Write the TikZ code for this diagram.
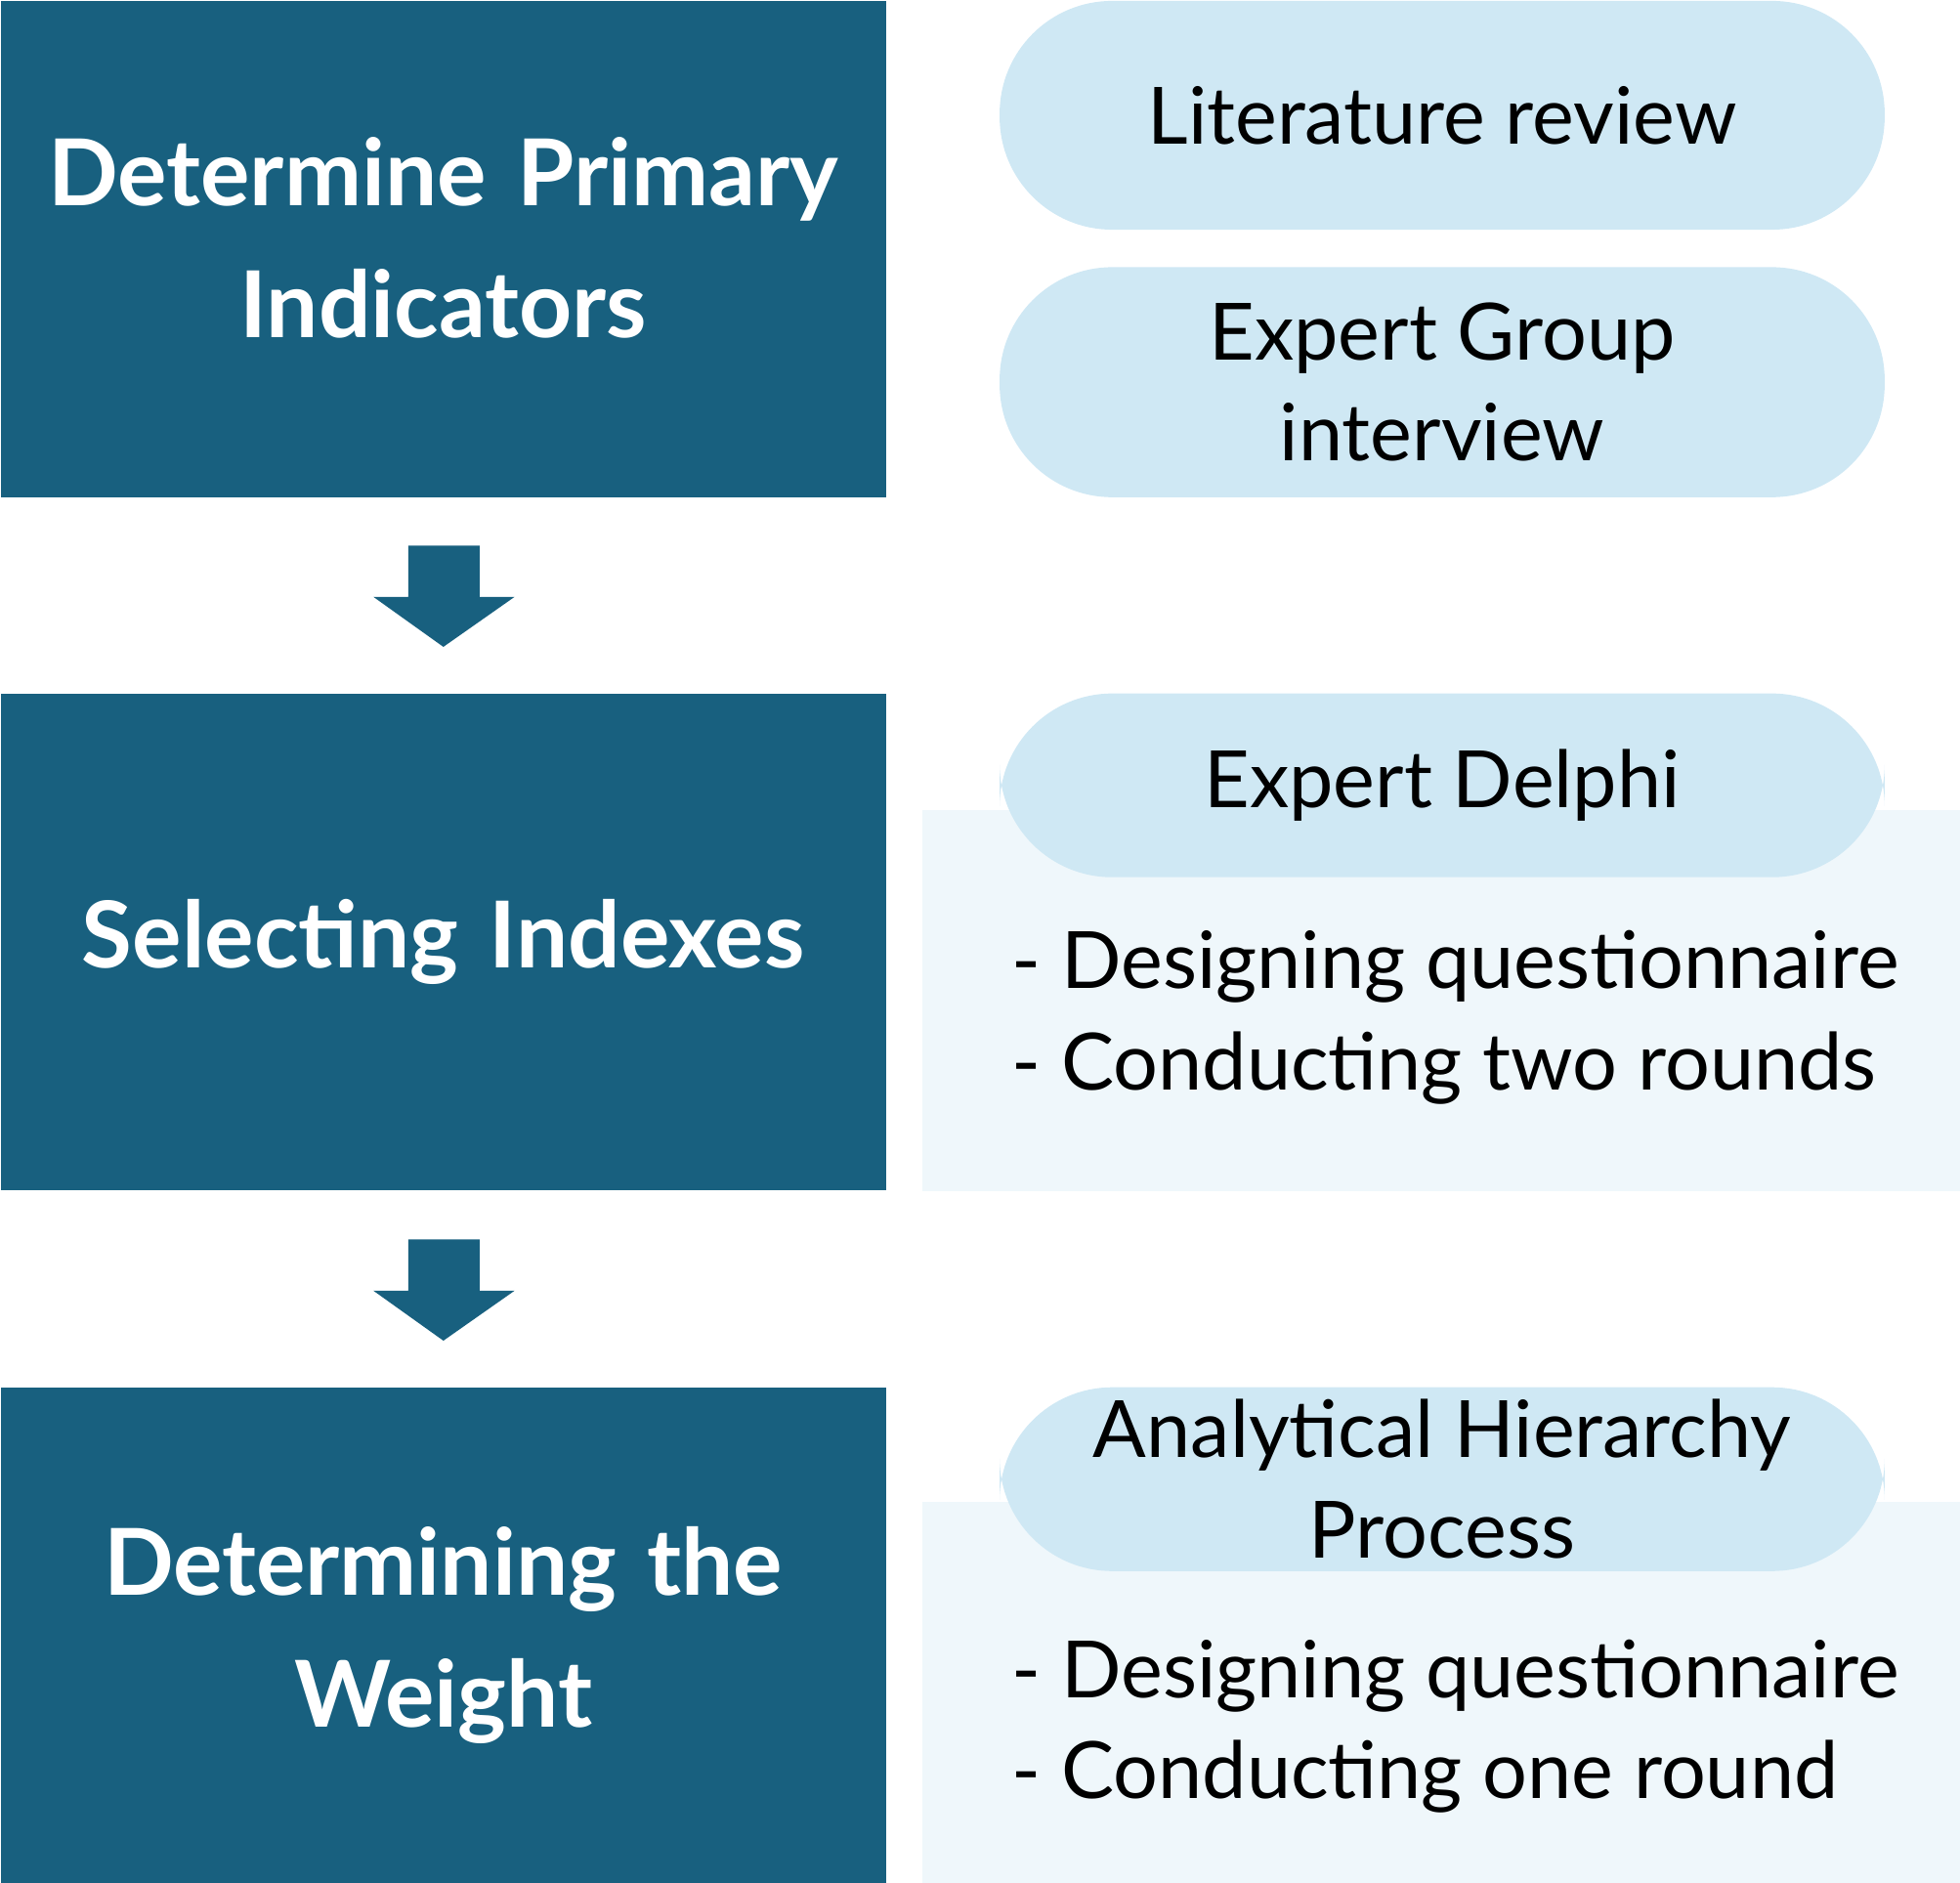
\documentclass[tikz,border=0pt]{standalone}
\usepackage{fontspec}
\setmainfont{Lato}
\usetikzlibrary{positioning,calc}
\definecolor{stepblue}{HTML}{18607F}
\definecolor{pillblue}{HTML}{CFE8F4}
\definecolor{paleblue}{HTML}{EFF7FB}
\tikzset{
  stage/.style={fill=stepblue,text=white,font=\bfseries\fontsize{21}{30}\selectfont,
    minimum width=7.08cm,minimum height=3.97cm,text width=6.6cm,align=center,inner sep=0pt},
  pill/.style={fill=pillblue,rounded corners=0.9cm,minimum width=7.08cm,
    font=\fontsize{18}{23}\selectfont,align=center,inner sep=0pt},
  panel/.style={fill=paleblue,minimum width=8.31cm,minimum height=3.05cm,inner sep=0pt},
  bullets/.style={font=\fontsize{18}{23}\selectfont,align=left,anchor=west}
}
\begin{document}
\begin{tikzpicture}
\useasboundingbox (0,0) rectangle (15.68,-15.06);
% left column
\node[stage,anchor=north west] (prim) at (0,0) {\raisebox{0.8cm}{\parbox{6.6cm}{\centering Determine Primary\\Indicators}}};
\node[stage,anchor=north west] (sel) at (0,-5.54) {Selecting Indexes};
\node[stage,anchor=north west] (wgt) at (0,-11.09) {Determining the\\Weight};
% block arrows
\fill[stepblue] ($(prim.south)+(-0.28,-0.38)$) -- ++(0.57,0) -- ++(0,-0.41) -- ++(0.28,0)
  -- ($(prim.south)+(0,-1.19)$) -- ++(-0.56,0.4) -- ++(0.28,0) -- cycle;
\fill[stepblue] ($(sel.south)+(-0.28,-0.39)$) -- ++(0.57,0) -- ++(0,-0.41) -- ++(0.28,0)
  -- ($(sel.south)+(0,-1.2)$) -- ++(-0.56,0.4) -- ++(0.28,0) -- cycle;
% right column
\node[pill,minimum height=1.83cm,anchor=north west] (lit) at (7.99,0) {Literature review};
\node[pill,minimum height=1.84cm,anchor=north west] (grp) at (7.99,-2.13) {Expert Group\\interview};
\node[panel,anchor=north west] (delpan) at (7.37,-6.47) {};
\node[pill,minimum height=1.47cm,anchor=north west] (del) at (7.99,-5.54) {Expert Delphi};
\node[bullets] (delb) at (7.97,-8.14) {- Designing questionnaire\\- Conducting two rounds};
\node[panel,anchor=north west] (ahppan) at (7.37,-12.01) {};
\node[pill,minimum height=1.47cm,anchor=north west] (ahp) at (7.99,-11.09) {Analytical Hierarchy\\Process};
\node[bullets] (ahpb) at (7.97,-13.81) {- Designing questionnaire\\- Conducting one round};
\end{tikzpicture}
\end{document}
